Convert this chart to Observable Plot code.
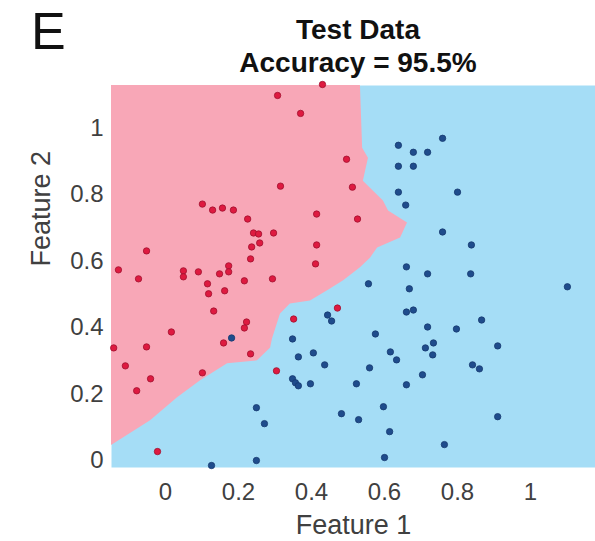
<!DOCTYPE html>
<html><head><meta charset="utf-8">
<script src="https://cdn.jsdelivr.net/npm/d3@7"></script>
<script src="https://cdn.jsdelivr.net/npm/@observablehq/plot@0.6"></script>
<style>
body{margin:0;background:#fff;font-family:"Liberation Sans",Arial,Helvetica,sans-serif}
#wrap{position:relative;width:595px;height:541px;overflow:hidden}
#header{position:relative;width:595px;height:80px}
.panel{position:absolute;left:31px;top:5px;font-size:52px;line-height:52px;color:#111}
.t{position:absolute;left:116px;width:484px;text-align:center;font-weight:bold;font-size:28px;line-height:28px;color:#111}
.t1{top:16px}.t2{top:49px}
</style></head><body>
<div id="wrap">
<div id="header"><div class="panel">E</div><div class="t t1">Test Data</div><div class="t t2">Accuracy = 95.5%</div></div>
<div id="chart"></div>
</div>
<script>
const redX=[0.430,0.307,0.370,0.496,0.315,0.512,0.414,0.526,0.101,0.129,0.156,0.186,0.225,0.241,0.255,0.258,0.236,0.233,-0.052,-0.129,-0.074,0.049,0.049,0.090,0.148,0.173,0.173,0.216,0.293,0.296,0.414,0.411,0.115,0.118,0.162,0.132,0.222,0.216,0.016,0.159,-0.142,-0.052,-0.110,-0.041,-0.079,0.101,0.233,0.471,0.351,0.304,-0.022];
const redY=[1.132,1.099,1.045,0.907,0.826,0.823,0.742,0.727,0.772,0.754,0.760,0.754,0.727,0.685,0.682,0.655,0.643,0.607,0.631,0.574,0.547,0.571,0.553,0.568,0.562,0.586,0.568,0.541,0.547,0.685,0.649,0.592,0.532,0.502,0.511,0.450,0.417,0.399,0.387,0.354,0.339,0.342,0.285,0.246,0.210,0.264,0.321,0.459,0.426,0.270,0.027];
const blueX=[0.638,0.679,0.718,0.759,0.638,0.679,0.638,0.800,0.658,0.759,0.838,0.660,0.718,0.836,1.101,0.556,0.668,0.660,0.679,0.444,0.455,0.866,0.718,0.797,0.575,0.348,0.734,0.712,0.732,0.910,0.704,0.841,0.860,0.910,0.764,0.364,0.405,0.436,0.348,0.356,0.364,0.397,0.523,0.559,0.616,0.633,0.660,0.597,0.482,0.529,0.614,0.271,0.600,0.181,0.249,0.249,0.126];
const blueY=[0.949,0.928,0.928,0.970,0.886,0.886,0.808,0.808,0.769,0.688,0.649,0.583,0.562,0.562,0.523,0.532,0.517,0.447,0.453,0.438,0.420,0.423,0.402,0.396,0.381,0.366,0.354,0.339,0.318,0.345,0.258,0.288,0.276,0.132,0.048,0.312,0.324,0.288,0.246,0.234,0.225,0.231,0.231,0.279,0.327,0.303,0.228,0.162,0.141,0.123,0.087,0.111,0.009,0.369,0.159,0.000,-0.015];
const boundaryX=[-0.148,-0.041,0.033,0.096,0.170,0.252,0.288,0.293,0.315,0.342,0.397,0.444,0.488,0.534,0.562,0.581,0.644,0.663,0.611,0.597,0.542,0.556,0.540,0.534];
const boundaryY=[0.045,0.120,0.189,0.240,0.291,0.300,0.339,0.366,0.441,0.471,0.480,0.511,0.541,0.580,0.610,0.640,0.670,0.715,0.751,0.781,0.841,0.910,0.940,1.129];
const xTicks=[0,0.2,0.4,0.6,0.8,1];
const yTicks=[0,0.2,0.4,0.6,0.8,1];

const xDomain=[-0.148,1.178], yDomain=[-0.021,1.129];
const red=redX.map((x,i)=>({x,y:redY[i]}));
const blue=blueX.map((x,i)=>({x,y:blueY[i]}));
const boundary=boundaryX.map((x,i)=>({x,y:boundaryY[i]}));
const font='"Liberation Sans",Arial,Helvetica,sans-serif';
const fmt=d3.format("~g");

const chart=Plot.plot({
  width:595,height:461,
  marginLeft:111,marginRight:0,marginTop:5,marginBottom:74,
  style:{fontFamily:font,background:"transparent",color:"#404040"},
  x:{domain:xDomain},
  y:{domain:yDomain},
  marks:[
    Plot.frame({fill:"#a5ddf6",stroke:null}),
    Plot.areaX(boundary,{y:"y",x1:xDomain[0],x2:"x",fill:"#f8a7b7",curve:"linear"}),
    Plot.axisX(xTicks,{tickSize:0,tickPadding:15,fontSize:24,label:null,tickFormat:fmt,fill:"#404040"}),
    Plot.axisY(yTicks,{tickSize:0,tickPadding:8,fontSize:24,label:null,tickFormat:fmt,fill:"#404040"}),
    Plot.text(["Feature 1"],{frameAnchor:"bottom",dy:66,fontSize:27,fill:"#404040"}),
    Plot.text(["Feature 2"],{frameAnchor:"left",dx:-70,dy:-10,rotate:-90,fontSize:27,fill:"#404040"}),
    Plot.dot(red,{x:"x",y:"y",r:3.2,fill:"#de1a40",stroke:"#a0102e",strokeWidth:0.8}),
    Plot.dot(blue,{x:"x",y:"y",r:3.2,fill:"#1f4c8c",stroke:"#163a70",strokeWidth:0.8})
  ]
});
document.getElementById("chart").appendChild(chart);
</script>
</body></html>
